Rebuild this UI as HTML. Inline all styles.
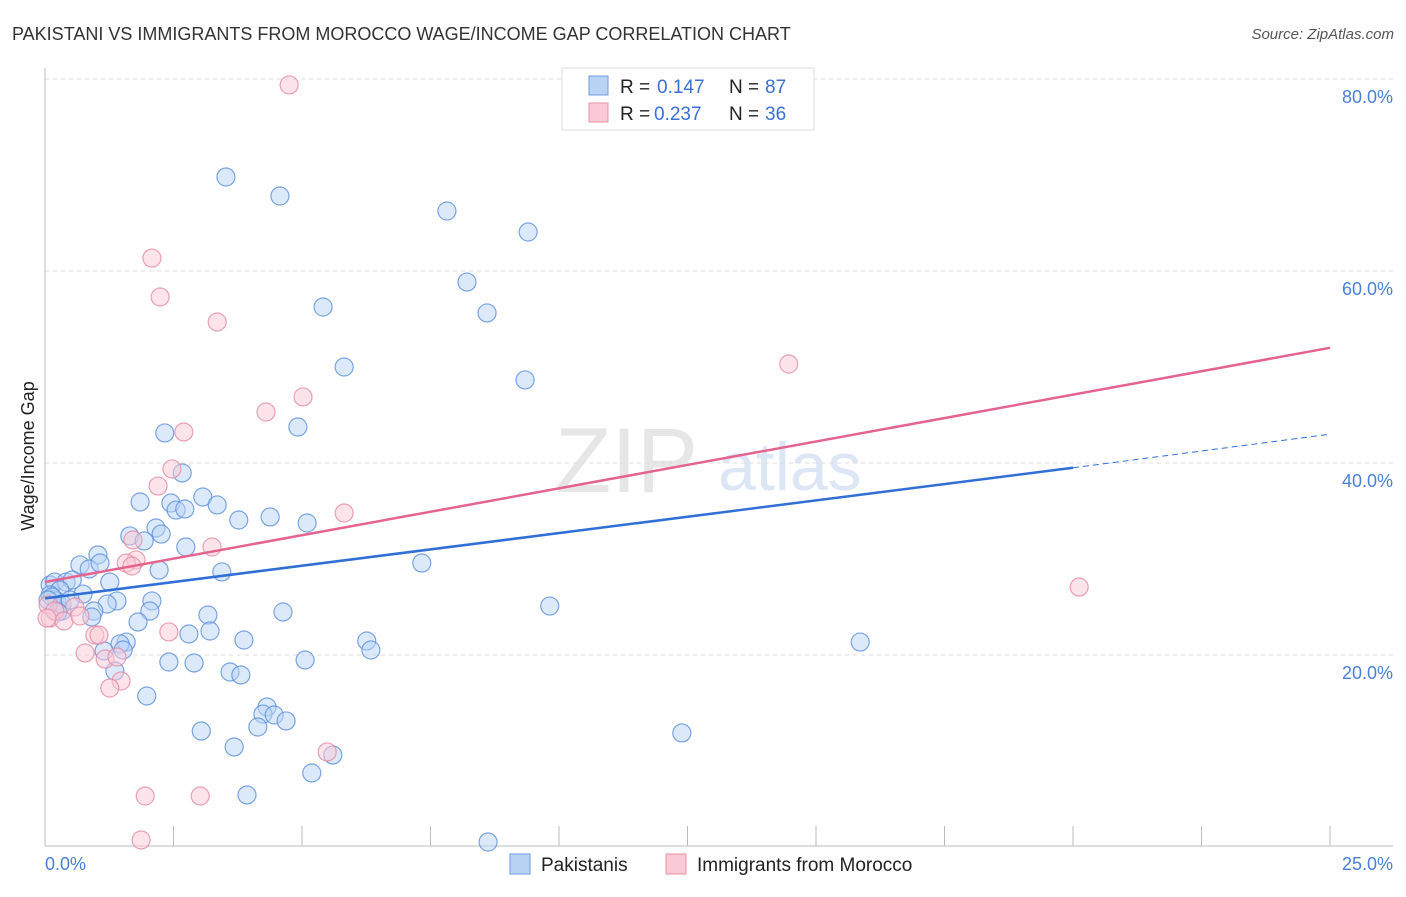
<!DOCTYPE html>
<html><head><meta charset="utf-8"><style>
body{margin:0;background:#fff;font-family:"Liberation Sans",sans-serif;}
svg text{font-family:"Liberation Sans",sans-serif;}
</style></head><body>
<svg id="chart" width="1406" height="892">
<text x="12" y="40" font-size="18" fill="#333">PAKISTANI VS IMMIGRANTS FROM MOROCCO WAGE/INCOME GAP CORRELATION CHART</text>
<text x="1394" y="39" font-size="15" fill="#555" font-style="italic" text-anchor="end">Source: ZipAtlas.com</text>
<text x="555" y="492" font-size="92" fill="#e6e6e6" font-family="Liberation Serif">ZIP</text>
<text x="718" y="490" font-size="68" fill="#dce6f4">atlas</text>
<g id="grid"></g><g id="axes"></g><g id="pts"></g><g id="lines"></g>
<text x="34" y="456" font-size="18" fill="#222" text-anchor="middle" transform="rotate(-90 34 456)">Wage/Income Gap</text>
<text x="45" y="870" font-size="18" fill="#4a7fd8">0.0%</text>
<text x="1393" y="870" font-size="18" fill="#4a7fd8" text-anchor="end">25.0%</text>
<g>
<rect x="562" y="68" width="252" height="62" fill="#fff" stroke="#ddd"/>
<rect x="589" y="76" width="19" height="19" fill="#b9d3f5" stroke="#6f9de0"/>
<text x="620" y="93" font-size="19" fill="#222">R = </text><text x="657" y="93" font-size="19" fill="#3b6fd3">0.147</text>
<text x="729" y="93" font-size="19" fill="#222">N = </text><text x="765" y="93" font-size="19" fill="#3b6fd3">87</text>
<rect x="589" y="103" width="19" height="19" fill="#f9c9d6" stroke="#e890a8"/>
<text x="620" y="120" font-size="19" fill="#222">R = </text><text x="654" y="120" font-size="19" fill="#3b6fd3">0.237</text>
<text x="729" y="120" font-size="19" fill="#222">N = </text><text x="765" y="120" font-size="19" fill="#3b6fd3">36</text>
</g>
<g>
<rect x="510" y="854" width="20" height="20" fill="#b9d3f5" stroke="#6f9de0"/>
<text x="541" y="871" font-size="19" fill="#222">Pakistanis</text>
<rect x="666" y="854" width="20" height="20" fill="#f9c9d6" stroke="#e890a8"/>
<text x="697" y="871" font-size="19" fill="#222">Immigrants from Morocco</text>
</g>
</svg>
<script>
const yTicks=[20,40,60,80];
const xTicks=[0,2.5,5,7.5,10,12.5,15,17.5,20,22.5,25];
const bluePx=[[226,177],[280,196],[447,211],[528,232],[467,282],[487,313],[323,307],[344,367],[525,380],[165,433],[298,427],[182,473],[140,502],[171,503],[203,497],[217,505],[239,520],[270,517],[307,523],[176,510],[185,509],[156,528],[161,534],[130,536],[144,541],[186,547],[98,555],[80,565],[89,569],[100,563],[222,572],[159,570],[422,563],[110,582],[83,594],[50,585],[55,582],[66,582],[72,580],[60,590],[50,595],[57,601],[62,611],[117,601],[107,604],[94,611],[152,601],[150,611],[92,617],[138,622],[208,615],[283,612],[550,606],[126,642],[120,644],[123,650],[189,634],[210,631],[244,640],[367,641],[371,650],[860,642],[104,651],[115,671],[169,662],[194,663],[305,660],[230,672],[241,675],[147,696],[267,707],[263,714],[274,715],[286,721],[258,727],[201,731],[682,733],[234,747],[333,755],[312,773],[247,795],[488,842],[52,597],[48,600],[62,604],[70,600],[58,612]];
const pinkPx=[[289,85],[152,258],[160,297],[217,322],[789,364],[303,397],[266,412],[184,432],[172,469],[158,486],[344,513],[212,547],[133,540],[136,560],[126,563],[132,566],[1079,587],[48,605],[50,618],[55,611],[64,621],[75,607],[80,616],[95,635],[99,635],[85,653],[105,659],[117,657],[121,681],[110,688],[169,632],[327,752],[145,796],[200,796],[141,840],[47,618]];
const blueX=bluePx.map(p=>+((p[0]-45)/1285*25).toFixed(2));
const blueY=bluePx.map(p=>+((847-p[1])/192*20).toFixed(2));
const pinkX=pinkPx.map(p=>+((p[0]-45)/1285*25).toFixed(2));
const pinkY=pinkPx.map(p=>+((847-p[1])/192*20).toFixed(2));
const blueTrend=[[0,25.9],[20,39.5],[25,43.0]];
const pinkTrend=[[0,27.6],[25,52.0]];
const X=v=>45+v/25*1285, Y=v=>847-v/20*192;
const NS='http://www.w3.org/2000/svg';
function mk(t,a,parent){const e=document.createElementNS(NS,t);for(const k in a)e.setAttribute(k,a[k]);document.getElementById(parent).appendChild(e);return e;}
yTicks.forEach(t=>{
 const l=mk('line',{x1:45,x2:1393,y1:Y(t),y2:Y(t),stroke:'#ddd','stroke-dasharray':'4,4'},'grid');
 
 
 const tx=mk('text',{x:1393,y:Y(t)+24,'font-size':18,fill:'#4a7fd8','text-anchor':'end'},'grid');
 tx.textContent=t.toFixed(1)+'%';
 
 
});
const ax=mk('line',{x1:45,x2:1393,y1:846,y2:846,stroke:'#bbb'},'axes');


const ay=mk('line',{x1:45,x2:45,y1:68,y2:846,stroke:'#bbb'},'axes');


xTicks.forEach(t=>{
 const l=mk('line',{x1:X(t),x2:X(t),y1:826,y2:846,stroke:'#bbb'},'axes');
 
 
});
function dots(xs,ys,fill,stroke,name){xs.forEach((x,i)=>{
 const c=mk('circle',{cx:X(x),cy:Y(ys[i]),r:9,fill:fill,'fill-opacity':0.5,stroke:stroke,'stroke-opacity':0.8,'stroke-width':1.2},'pts');
 
 
});}
dots(blueX,blueY,'#b9d3f5','#5b8fdc','pakistani-point');
dots(pinkX,pinkY,'#f9c9d6','#e58aa5','morocco-point');
const b1=mk('line',{x1:X(blueTrend[0][0]),y1:Y(blueTrend[0][1]),x2:X(blueTrend[1][0]),y2:Y(blueTrend[1][1]),stroke:'#2f6fd6','stroke-width':2.5},'lines');


const b2=mk('line',{x1:X(blueTrend[1][0]),y1:Y(blueTrend[1][1]),x2:X(blueTrend[2][0]),y2:Y(blueTrend[2][1]),stroke:'#2f6fd6','stroke-width':1,'stroke-dasharray':'6,4'},'lines');


const p1=mk('line',{x1:X(pinkTrend[0][0]),y1:Y(pinkTrend[0][1]),x2:X(pinkTrend[1][0]),y2:Y(pinkTrend[1][1]),stroke:'#e4648f','stroke-width':2.5},'lines');


</script>
</body></html>
